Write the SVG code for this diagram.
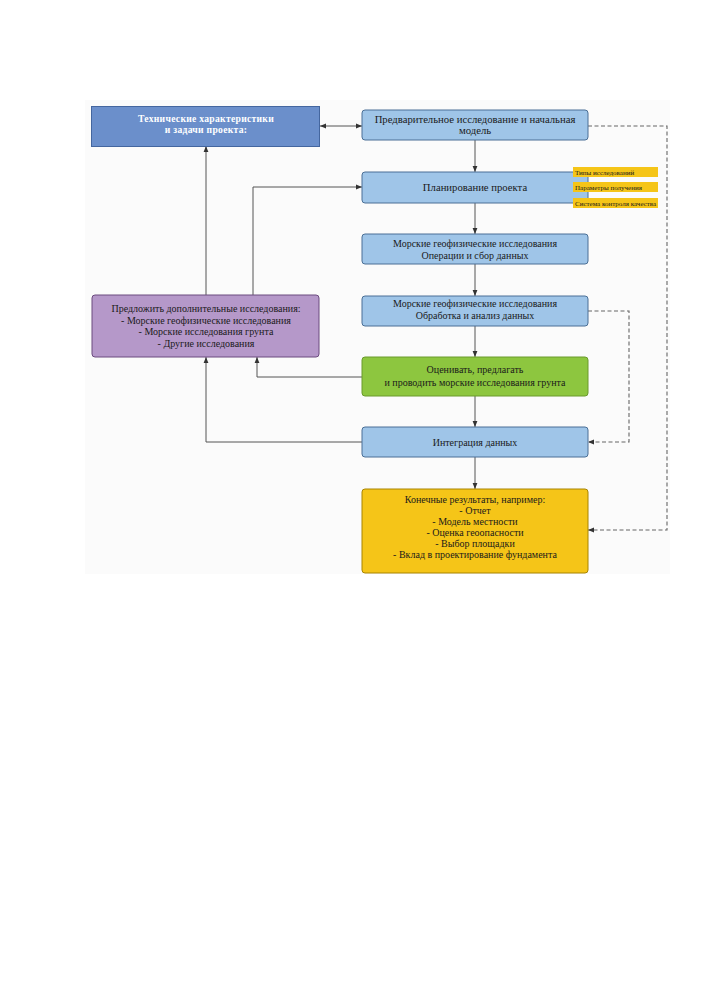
<svg xmlns="http://www.w3.org/2000/svg" width="707" height="1000" viewBox="0 0 707 1000">
<defs>
<style>
text{font-family:"Liberation Serif","DejaVu Serif",serif;fill:#1a1a1a;text-anchor:middle}
.t{font-size:10.7px}
.s{font-size:10px}
.lab{font-size:7px;text-anchor:start}
.w{fill:#ffffff;font-weight:bold;font-size:9.6px;letter-spacing:0.3px}
.blue{fill:#9fc5e8;stroke:#4a6f96;stroke-width:1}
.line{fill:none;stroke:#555;stroke-width:1}
.dash{fill:none;stroke:#666;stroke-width:1.1;stroke-dasharray:4 2.5}
</style>
<marker id="ah" viewBox="0 0 10 10" refX="10" refY="5" markerWidth="6" markerHeight="6" orient="auto-start-reverse" markerUnits="userSpaceOnUse">
<path d="M0,1 L10,5 L0,9 z" fill="#333"/>
</marker>
</defs>
<rect x="85" y="100" width="585" height="474" fill="#fbfbfb"/>
<g id="connectors">
<path class="line" d="M320,126 H362" marker-start="url(#ah)" marker-end="url(#ah)"/>
<path class="line" d="M475,140 V172" marker-end="url(#ah)"/>
<path class="line" d="M475,203 V234" marker-end="url(#ah)"/>
<path class="line" d="M475,264 V296" marker-end="url(#ah)"/>
<path class="line" d="M475,326 V357" marker-end="url(#ah)"/>
<path class="line" d="M475,396 V427" marker-end="url(#ah)"/>
<path class="line" d="M475,457 V489" marker-end="url(#ah)"/>
<path class="line" d="M206,295 V146" marker-end="url(#ah)"/>
<path class="line" d="M253,295 V187 H362" marker-end="url(#ah)"/>
<path class="line" d="M362,377 H257 V357" marker-end="url(#ah)"/>
<path class="line" d="M362,442 H206 V357" marker-end="url(#ah)"/>
<path class="dash" d="M588,126 H667 V530 H588" marker-end="url(#ah)"/>
<path class="dash" d="M588,311 H629 V442 H588" marker-end="url(#ah)"/>
</g>
<g id="tech">
<rect x="91.5" y="106.5" width="228" height="40" fill="#6b8fcb" stroke="#44669f"/>
<text class="w" x="206" y="122">Технические характеристики</text>
<text class="w" x="206" y="133">и задачи проекта:</text>
</g>
<g id="prelim">
<rect class="blue" x="362" y="110" width="226" height="30" rx="3"/>
<text class="t" x="475" y="123">Предварительное исследование и начальная</text>
<text class="t" x="475" y="134">модель</text>
</g>
<g id="planning">
<rect class="blue" x="362" y="172" width="226" height="31" rx="3"/>
<text class="t" x="475" y="191">Планирование проекта</text>
</g>
<g id="labels">
<rect x="573" y="167" width="85" height="10" fill="#f5c518"/>
<text class="lab" x="575" y="175">Типы исследований</text>
<rect x="573" y="182" width="85" height="10" fill="#f5c518"/>
<text class="lab" x="575" y="190">Параметры получения</text>
<rect x="573" y="198" width="85" height="10" fill="#f5c518"/>
<text class="lab" x="575" y="206">Система контроля качества</text>
</g>
<g id="ops">
<rect class="blue" x="362" y="234" width="226" height="30" rx="3"/>
<text class="s" x="475" y="247">Морские геофизические исследования</text>
<text class="s" x="475" y="258.5">Операции и сбор данных</text>
</g>
<g id="processing">
<rect class="blue" x="362" y="296" width="226" height="30" rx="3"/>
<text class="s" x="475" y="307">Морские геофизические исследования</text>
<text class="s" x="475" y="318.5">Обработка и анализ данных</text>
</g>
<g id="purple">
<rect x="92" y="295" width="227" height="62" rx="3" fill="#b598c9" stroke="#6b4a7e"/>
<text class="s" x="206" y="312">Предложить дополнительные исследования:</text>
<text class="s" x="206" y="323.5">- Морские геофизические исследования</text>
<text class="s" x="206" y="335">- Морские исследования грунта</text>
<text class="s" x="206" y="346.5">- Другие исследования</text>
</g>
<g id="green">
<rect x="362" y="357" width="226" height="39" rx="3" fill="#8dc63f" stroke="#6a9a2c"/>
<text class="s" x="475" y="373">Оценивать, предлагать</text>
<text class="s" x="475" y="386">и проводить морские исследования грунта</text>
</g>
<g id="integration">
<rect class="blue" x="362" y="427" width="226" height="30" rx="3"/>
<text class="s" x="475" y="446">Интеграция данных</text>
</g>
<g id="final">
<rect x="362" y="489" width="226" height="84" rx="3" fill="#f5c518" stroke="#a88400"/>
<text class="s" x="475" y="503">Конечные результаты, например:</text>
<text class="s" x="475" y="514">- Отчет</text>
<text class="s" x="475" y="525">- Модель местности</text>
<text class="s" x="475" y="536">- Оценка геоопасности</text>
<text class="s" x="475" y="547">- Выбор площадки</text>
<text class="s" x="475" y="558">- Вклад в проектирование фундамента</text>
</g>
</svg>
